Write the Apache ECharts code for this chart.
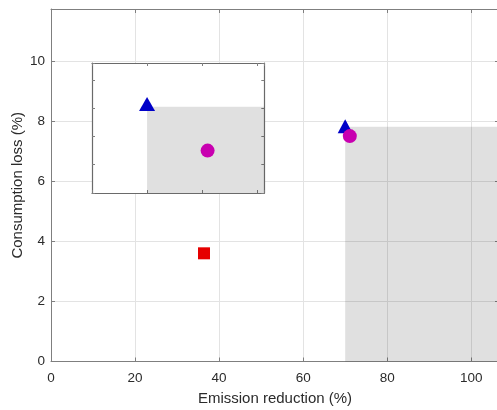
<!DOCTYPE html>
<html>
<head>
<meta charset="utf-8">
<script src="https://cdn.jsdelivr.net/npm/echarts@6/dist/echarts.min.js"></script>
<style>
  html, body { margin: 0; padding: 0; background: #fff; }
  #chart { width: 497px; height: 410px; }
</style>
</head>
<body>
<div id="chart"></div>
<script>
// Axis ranges
const xMainRange = [0, 106.6];
const yMainRange = [0, 11.73];
const xInsetRange = [69, 72.13];
const yInsetRange = [7.2, 8.12];
const xMainStep = 20;
const yMainStep = 2;
const xInsetStep = 1;
const yInsetStep = 0.2;

// Points (emission reduction %, consumption loss %)
const trianglePoints = [[70.0, 7.83]];
const circlePoints = [[71.1, 7.5]];
const squarePoints = [[36.4, 3.6]];
// Corner of the shaded region (extends right and down from here)
const shadedCorner = [70.0, 7.81];

const FONT = 'Liberation Sans, Arial, sans-serif';
const AXIS_COLOR = '#7f7f7f';
const TEXT_COLOR = '#2b2b2b';
const BLUE = '#0000c8';
const MAGENTA = '#c800b0';
const RED = '#e60000';
const SHADE = 'rgba(0,0,0,0.12)';

function frameAxis(extra) {
  return Object.assign({
    type: 'value',
    axisLine: { show: true, onZero: false, lineStyle: { color: AXIS_COLOR, width: 1 } },
    axisTick: { show: true, inside: true, length: 4, lineStyle: { color: AXIS_COLOR } },
    axisLabel: { show: false },
    splitLine: { show: false }
  }, extra);
}

function insetAxis(extra) {
  return frameAxis(Object.assign({
    gridIndex: 1, z: 4,
    axisTick: { show: true, inside: true, length: 3, lineStyle: { color: AXIS_COLOR } },
    axisLine: { show: true, onZero: false, lineStyle: { color: '#6a6a6a', width: 1.2 } }
  }, extra));
}

const chart = echarts.init(document.getElementById('chart'), null, { renderer: 'canvas' });

const option = {
  animation: false,
  backgroundColor: '#fff',
  grid: [
    { left: 51, top: 9, width: 448, height: 352.5, z: 0, outerBoundsMode: 'none', containLabel: false },
    { left: 92, top: 63, width: 172.3, height: 130, show: true, backgroundColor: '#fff', borderWidth: 0, z: 3,
      outerBoundsMode: 'none', containLabel: false }
  ],
  xAxis: [
    frameAxis({
      gridIndex: 0, position: 'bottom', min: xMainRange[0], max: xMainRange[1], interval: xMainStep, z: 1,
      axisLabel: { show: true, showMaxLabel: false, fontSize: 13.5, color: TEXT_COLOR, fontFamily: FONT, margin: 10 },
      splitLine: { show: true, lineStyle: { color: '#e3e3e3', width: 1 } },
      name: 'Emission reduction (%)', nameLocation: 'middle', nameGap: 30,
      nameTextStyle: { fontSize: 15, color: TEXT_COLOR, fontFamily: FONT }
    }),
    frameAxis({ gridIndex: 0, position: 'top', min: xMainRange[0], max: xMainRange[1], interval: xMainStep, z: 1 }),
    insetAxis({ position: 'bottom', min: xInsetRange[0], max: xInsetRange[1], interval: xInsetStep }),
    insetAxis({ position: 'top', min: xInsetRange[0], max: xInsetRange[1], interval: xInsetStep })
  ],
  yAxis: [
    frameAxis({
      gridIndex: 0, position: 'left', min: yMainRange[0], max: yMainRange[1], interval: yMainStep, z: 1,
      axisLabel: { show: true, showMaxLabel: false, fontSize: 13.5, color: TEXT_COLOR, fontFamily: FONT, margin: 6 },
      splitLine: { show: true, lineStyle: { color: '#e3e3e3', width: 1 } },
      name: 'Consumption loss (%)', nameLocation: 'middle', nameGap: 26, nameMoveOverlap: false,
      nameTextStyle: { fontSize: 15, color: TEXT_COLOR, fontFamily: FONT }
    }),
    frameAxis({ gridIndex: 0, position: 'right', min: yMainRange[0], max: yMainRange[1], interval: yMainStep, z: 1 }),
    insetAxis({ position: 'left', min: yInsetRange[0], max: yInsetRange[1], interval: yInsetStep }),
    insetAxis({ position: 'right', min: yInsetRange[0], max: yInsetRange[1], interval: yInsetStep })
  ],
  series: [
    // Shaded region in the main axes
    {
      type: 'scatter', xAxisIndex: 0, yAxisIndex: 0, data: [], z: 2, silent: true,
      markArea: {
        silent: true, z: 2,
        itemStyle: { color: SHADE },
        data: [[
          { coord: [shadedCorner[0], yMainRange[0]] },
          { coord: [xMainRange[1], shadedCorner[1]] }
        ]]
      }
    },
    { type: 'scatter', xAxisIndex: 0, yAxisIndex: 0, z: 3, data: trianglePoints,
      symbol: 'triangle', symbolSize: [15, 14], itemStyle: { color: BLUE, opacity: 1 } },
    { type: 'scatter', xAxisIndex: 0, yAxisIndex: 0, z: 3, data: circlePoints,
      symbol: 'circle', symbolSize: 14, itemStyle: { color: MAGENTA, opacity: 1 } },
    { type: 'scatter', xAxisIndex: 0, yAxisIndex: 0, z: 3, data: squarePoints,
      symbol: 'rect', symbolSize: 12, itemStyle: { color: RED, opacity: 1 } },

    // Zoomed view
    {
      type: 'scatter', xAxisIndex: 2, yAxisIndex: 2, data: [], z: 5, silent: true,
      markArea: {
        silent: true, z: 5,
        itemStyle: { color: SHADE },
        data: [[
          { coord: [Math.max(shadedCorner[0], xInsetRange[0]), yInsetRange[0]] },
          { coord: [xInsetRange[1], Math.min(shadedCorner[1], yInsetRange[1])] }
        ]]
      }
    },
    { type: 'scatter', xAxisIndex: 2, yAxisIndex: 2, z: 6, data: trianglePoints,
      symbol: 'triangle', symbolSize: [16, 14], itemStyle: { color: BLUE, opacity: 1 } },
    { type: 'scatter', xAxisIndex: 2, yAxisIndex: 2, z: 6, data: circlePoints,
      symbol: 'circle', symbolSize: 14, itemStyle: { color: MAGENTA, opacity: 1 } }
  ]
};

chart.setOption(option);
</script>
</body>
</html>
